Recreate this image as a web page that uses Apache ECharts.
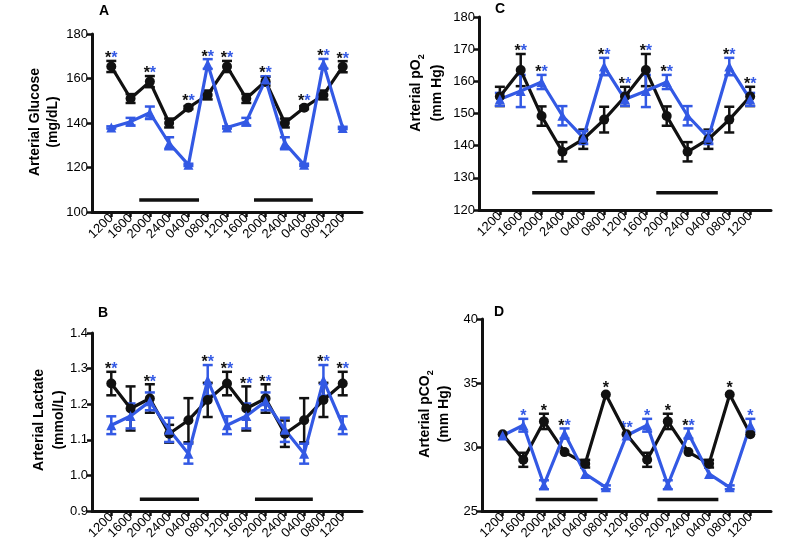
<!DOCTYPE html>
<html><head><meta charset="utf-8">
<script src="https://cdn.jsdelivr.net/npm/echarts@6/dist/echarts.min.js"></script>
<style>html,body{margin:0;padding:0;background:#fff}#c{width:799px;height:556px}</style>
</head><body><div id="c"></div>
<script>
// ---------- DATA ----------
const timeLabels = ['1200','1600','2000','2400','0400','0800','1200','1600','2000','2400','0400','0800','1200'];

// A: Arterial Glucose (mg/dL)
const glucoseBlack    = [165.4, 151.0, 158.6, 140.0, 146.9, 152.6, 165.4, 151.0, 158.8, 140.0, 146.9, 152.6, 165.3];
const glucoseBlackErr = [2.5, 2.0, 2.5, 2.0, 0.7, 2.0, 2.5, 2.0, 2.0, 2.0, 0.7, 2.0, 2.5];
const glucoseBlue     = [138.0, 140.6, 144.6, 130.9, 121.2, 166.5, 138.0, 140.6, 159.5, 130.9, 121.2, 166.6, 137.8];
const glucoseBlueErr  = [0.5, 1.7, 2.8, 2.7, 0.5, 2.2, 0.5, 1.7, 1.5, 2.7, 0.5, 2.2, 0.5];
const glucoseStarIdx  = [0, 2, 4, 5, 6, 8, 10, 11, 12];
const glucoseStarType = ['kb','kb','kb','kb','kb','kb','kb','kb','kb'];
const glucoseTicks    = [100, 120, 140, 160, 180];

// B: Arterial Lactate (mmol/L)
const lactateBlack    = [1.258, 1.188, 1.216, 1.117, 1.155, 1.212, 1.258, 1.188, 1.216, 1.117, 1.155, 1.212, 1.258];
const lactateBlackErr = [0.033, 0.062, 0.040, 0.025, 0.062, 0.048, 0.033, 0.062, 0.040, 0.037, 0.062, 0.048, 0.033];
const lactateBlue     = [1.141, 1.167, 1.208, 1.128, 1.061, 1.267, 1.141, 1.167, 1.208, 1.128, 1.061, 1.267, 1.141];
const lactateBlueErr  = [0.025, 0.035, 0.025, 0.034, 0.028, 0.043, 0.025, 0.035, 0.025, 0.034, 0.028, 0.043, 0.025];
const lactateStarIdx  = [0, 2, 5, 6, 7, 8, 11, 12];
const lactateStarType = ['kb','kb','kb','kb','kb','kb','kb','kb'];
const lactateTicks    = [0.9, 1.0, 1.1, 1.2, 1.3, 1.4];

// C: Arterial pO2 (mm Hg)
const po2Black    = [155.3, 163.5, 149.2, 138.1, 142.0, 148.1, 155.3, 163.5, 149.2, 138.1, 142.0, 148.1, 155.3];
const po2BlackErr = [3, 5, 3, 3, 3, 4, 3, 5, 3, 3, 3, 4, 3];
const po2Blue     = [154.4, 157.0, 159.8, 149.3, 142.5, 164.6, 154.4, 157.0, 159.8, 149.3, 142.5, 164.6, 154.4];
const po2BlueErr  = [2, 5, 2.2, 3, 2, 2.7, 2, 5, 2.2, 3, 2, 2.7, 2];
const po2StarIdx  = [1, 2, 5, 6, 7, 8, 11, 12];
const po2StarType = ['kb','kb','kb','kb','kb','kb','kb','kb'];
const po2Ticks    = [120, 130, 140, 150, 160, 170, 180];

// D: Arterial pCO2 (mm Hg)
const pco2Black    = [31.0, 29.0, 32.0, 29.6, 28.7, 34.1, 31.0, 29.0, 32.0, 29.6, 28.7, 34.1, 31.0];
const pco2BlackErr = [0, 0.55, 0.6, 0, 0.3, 0, 0, 0.55, 0.6, 0, 0.3, 0, 0];
const pco2Blue     = [30.9, 31.7, 27.05, 31.05, 27.9, 26.85, 30.9, 31.7, 27.05, 31.05, 27.9, 26.85, 31.7];
const pco2BlueErr  = [0, 0.5, 0.35, 0.4, 0, 0.15, 0, 0.5, 0.35, 0.4, 0, 0.15, 0.5];
const pco2StarIdx  = [1, 2, 3, 5, 6, 7, 8, 9, 11, 12];
const pco2StarType = ['b','k','kb','k','bb','b','k','kb','k','b'];
const pco2Ticks    = [25, 30, 35, 40];

// dark-period bars (x in category index units, y in data units)
const glucoseNight = [[1.45, 4.55], [7.4, 10.45]];   const glucoseNightY = 105.4;
const lactateNight = [[1.48, 4.55], [7.45, 10.45]];  const lactateNightY = 0.933;
const po2Night     = [[1.55, 4.55], [7.5, 10.45]];   const po2NightY = 125.4;
const pco2Night    = [[1.6, 4.6], [7.5, 10.45]];     const pco2NightY = 25.9;

// ---------- STYLE ----------
const BLACK = '#111111';
const BLUE = '#3359e4';
const FONT = "'Liberation Sans', Arial, Helvetica, sans-serif";

const panels = [
  {grid:{left:92, top:34, width:270, height:178}, k:glucoseBlack, ke:glucoseBlackErr, b:glucoseBlue, be:glucoseBlueErr,
   si:glucoseStarIdx, st:glucoseStarType, ticks:glucoseTicks, night:glucoseNight, nightY:glucoseNightY, dec:0},
  {grid:{left:479, top:17, width:292, height:193}, k:po2Black, ke:po2BlackErr, b:po2Blue, be:po2BlueErr,
   si:po2StarIdx, st:po2StarType, ticks:po2Ticks, night:po2Night, nightY:po2NightY, dec:0},
  {grid:{left:92, top:333, width:270, height:178}, k:lactateBlack, ke:lactateBlackErr, b:lactateBlue, be:lactateBlueErr,
   si:lactateStarIdx, st:lactateStarType, ticks:lactateTicks, night:lactateNight, nightY:lactateNightY, dec:1},
  {grid:{left:482, top:319, width:289, height:192}, k:pco2Black, ke:pco2BlackErr, b:pco2Blue, be:pco2BlueErr,
   si:pco2StarIdx, st:pco2StarType, ticks:pco2Ticks, night:pco2Night, nightY:pco2NightY, dec:0}
];

const idx = timeLabels.map((_, i) => i);

function errRenderer(color) {
  return function (params, api) {
    const x = api.value(0), m = api.value(1), e = api.value(2);
    if (!e) return null;
    const t = api.coord([x, m + e]), b = api.coord([x, m - e]);
    const hw = 5, st = {stroke: color, lineWidth: 2.5};
    return {type: 'group', children: [
      {type: 'line', shape: {x1: t[0], y1: t[1], x2: b[0], y2: b[1]}, style: st},
      {type: 'line', shape: {x1: t[0] - hw, y1: t[1], x2: t[0] + hw, y2: t[1]}, style: st},
      {type: 'line', shape: {x1: b[0] - hw, y1: b[1], x2: b[0] + hw, y2: b[1]}, style: st}
    ]};
  };
}

function starRenderer(types) {
  return function (params, api) {
    const i = api.value(0);
    const kTop = api.coord([i, api.value(1) + api.value(2)])[1];
    const kPt = api.coord([i, api.value(1)])[1];
    const bTop = api.coord([i, api.value(3) + api.value(4)])[1];
    const bPt = api.coord([i, api.value(3)])[1];
    const base = Math.min(kTop, kPt - 4, bTop, bPt - 4);
    const x = api.coord([i, api.value(1)])[0];
    const t = types[params.dataIndex];
    const txt = t === 'kb' ? '{k|*}{b|*}' : t === 'k' ? '{k|*}' : t === 'b' ? '{b|*}' : '{b|*}{b|*}';
    return {type: 'text', x: x, y: base - 2, style: {
      text: txt, align: 'center', verticalAlign: 'middle',
      rich: {k: {fill: BLACK, fontSize: 16, fontWeight: 'bold', fontFamily: FONT},
             b: {fill: BLUE, fontSize: 16, fontWeight: 'bold', fontFamily: FONT}}
    }};
  };
}

function nightRenderer(params, api) {
  const a = api.coord([api.value(0), api.value(2)]);
  const b = api.coord([api.value(1), api.value(2)]);
  return {type: 'line', shape: {x1: a[0], y1: a[1], x2: b[0], y2: b[1]}, style: {stroke: BLACK, lineWidth: 3.5}};
}

const grids = [], xAxes = [], yAxes = [], series = [];
panels.forEach((p, g) => {
  grids.push(Object.assign({outerBoundsMode: 'none', containLabel: false}, p.grid));
  xAxes.push({
    gridIndex: g, type: 'value', min: -1, max: 13, interval: 1,
    splitLine: {show: false},
    axisLine: {onZero: false, lineStyle: {color: BLACK, width: 3}},
    axisTick: {customValues: idx, length: 5, lineStyle: {color: BLACK, width: 2.5}},
    axisLabel: {customValues: idx, formatter: v => timeLabels[Math.round(v)], rotate: 45, fontSize: 13,
                color: '#000', margin: 4, fontFamily: FONT}
  });
  const tk = p.ticks;
  yAxes.push({
    gridIndex: g, type: 'value', min: tk[0], max: tk[tk.length - 1], interval: tk[1] - tk[0],
    splitLine: {show: false},
    axisLine: {show: true, onZero: false, lineStyle: {color: BLACK, width: 3}},
    axisTick: {show: true, length: 5, lineStyle: {color: BLACK, width: 2.5}},
    axisLabel: {fontSize: 13, color: '#000', margin: 4, fontFamily: FONT,
                formatter: v => v.toFixed(p.dec)}
  });
  const ax = {xAxisIndex: g, yAxisIndex: g};
  series.push(Object.assign({type: 'custom', renderItem: nightRenderer, silent: true,
    data: p.night.map(r => [r[0], r[1], p.nightY]), encode: {x: [0, 1], y: 2}}, ax));
  series.push(Object.assign({type: 'custom', renderItem: errRenderer(BLACK), silent: true,
    data: idx.map(i => [i, p.k[i], p.ke[i]]), encode: {x: 0, y: 1}}, ax));
  series.push(Object.assign({type: 'line', data: idx.map(i => [i, p.k[i]]), symbol: 'circle', symbolSize: 10,
    lineStyle: {color: BLACK, width: 3.2}, itemStyle: {color: BLACK}}, ax));
  series.push(Object.assign({type: 'custom', renderItem: errRenderer(BLUE), silent: true,
    data: idx.map(i => [i, p.b[i], p.be[i]]), encode: {x: 0, y: 1}}, ax));
  series.push(Object.assign({type: 'line', data: idx.map(i => [i, p.b[i]]), symbol: 'triangle', symbolSize: 10,
    lineStyle: {color: BLUE, width: 3.2}, itemStyle: {color: BLUE}}, ax));
  series.push(Object.assign({type: 'custom', renderItem: starRenderer(p.st), silent: true,
    data: p.si.map(i => [i, p.k[i], p.ke[i], p.b[i], p.be[i]]), encode: {x: 0, y: 1}}, ax));
});

function vtext(x, y, text, rich) {
  return {type: 'text', x: x, y: y, rotation: Math.PI / 2,
    style: {text: text, align: 'center', verticalAlign: 'middle', fill: '#000',
            font: 'bold 14px ' + FONT, rich: rich}};
}
const subRich = {
  m: {fontSize: 14, fontWeight: 'bold', fontFamily: FONT, fill: '#000', lineHeight: 20},
  s: {fontSize: 9, fontWeight: 'bold', fontFamily: FONT, fill: '#000', lineHeight: 9, verticalAlign: 'bottom'}
};
function letter(x, y, t) {
  return {type: 'text', x: x, y: y, style: {text: t, align: 'center', verticalAlign: 'middle', fill: '#000',
    font: 'bold 14px ' + FONT}};
}

const graphic = [
  letter(104, 11, 'A'), letter(500, 9, 'C'), letter(103, 313, 'B'), letter(499, 312, 'D'),
  vtext(35, 122, 'Arterial Glucose'), vtext(53, 122, '(mg/dL)'),
  vtext(39, 420, 'Arterial Lactate'), vtext(59, 420, '(mmol/L)'),
  vtext(416, 93, '{m|Arterial pO}{s|2}', subRich), vtext(437, 93, '(mm Hg)'),
  vtext(425, 414, '{m|Arterial pCO}{s|2}', subRich), vtext(444, 414, '(mm Hg)')
];

const chart = echarts.init(document.getElementById('c'), null, {renderer: 'canvas'});
chart.setOption({
  animation: false, backgroundColor: '#fff',
  grid: grids, xAxis: xAxes, yAxis: yAxes, series: series, graphic: graphic
});
</script></body></html>
